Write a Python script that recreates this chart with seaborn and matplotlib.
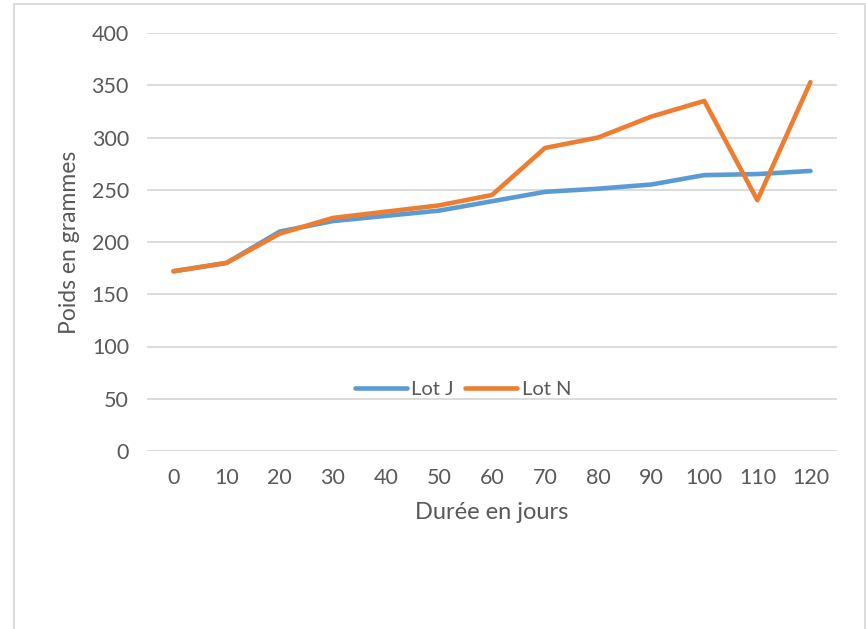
import pandas as pd
import matplotlib.pyplot as plt
import seaborn as sns
from matplotlib.patches import Rectangle

# data
jours = [0, 10, 20, 30, 40, 50, 60, 70, 80, 90, 100, 110, 120]
lot_j = [172, 180, 210, 220, 225, 230, 239, 248, 251, 255, 264, 265, 268]
lot_n = [172, 180, 208, 223, 229, 235, 245, 290, 300, 320, 335, 240, 353]

df = pd.DataFrame({
    "jours": jours * 2,
    "poids": lot_j + lot_n,
    "lot": ["Lot J"] * len(jours) + ["Lot N"] * len(jours),
})

sns.set_theme(style="white")
plt.rcParams["font.family"] = ["Lato", "DejaVu Sans"]
grey = "#595959"

fig = plt.figure(figsize=(8.66, 6.29), dpi=100)
ax = fig.add_axes([147 / 866, 1 - 451 / 629, 690 / 866, 418 / 629])

sns.lineplot(data=df, x="jours", y="poids", hue="lot",
             palette={"Lot J": "#5B9BD5", "Lot N": "#ED7D31"},
             linewidth=3.3, ax=ax, solid_capstyle="round", zorder=3)

ax.set_xlim(-5, 125)
ax.set_ylim(0, 400)
ax.set_xticks(jours)
ax.set_yticks(range(0, 401, 50))
ax.tick_params(axis="both", length=0, labelsize=15.5, colors=grey)
ax.tick_params(axis="x", pad=12)
ax.tick_params(axis="y", pad=13)
ax.grid(axis="y", color="#D9D9D9", linewidth=1.3)
for s in ax.spines.values():
    s.set_visible(False)

ax.set_xlabel("Durée en jours", fontsize=17, color=grey, labelpad=10)
ax.set_ylabel("Poids en grammes", fontsize=16.5, color=grey, labelpad=8)

ax.legend(loc="center", bbox_to_anchor=(0.458, 0.148), ncol=2, frameon=False,
          fontsize=14.5, labelcolor=grey, handlelength=2.6, handletextpad=0.2,
          columnspacing=0.55)

# outer chart border
fig.patches.append(Rectangle((14 / 866, -0.01), (866 - 15) / 866, 1 - 4 / 629 + 0.01,
                             transform=fig.transFigure, fill=False,
                             edgecolor="#D9D9D9", linewidth=1.3))

fig.savefig("out.png", dpi=100)
